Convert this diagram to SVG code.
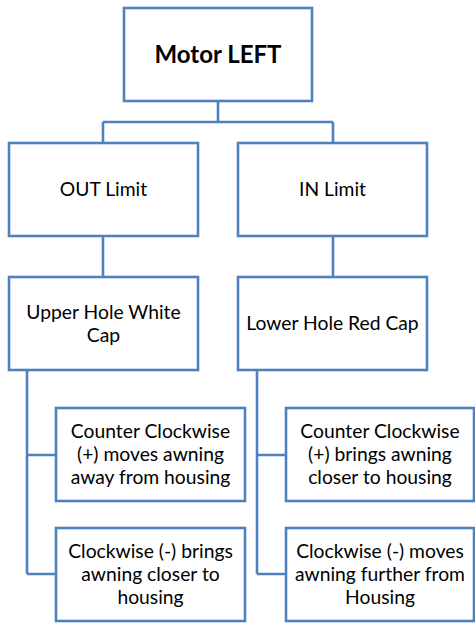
<svg xmlns="http://www.w3.org/2000/svg" width="475" height="623" viewBox="0 0 475 623">
<style>
.box{fill:#ffffff;stroke:#4F81BD;stroke-width:2.6}
.ln{fill:none;stroke:#4F81BD;stroke-width:2.6}
text{font-family:Lato,"Open Sans","Liberation Sans",sans-serif;font-size:19.3px;fill:#000;text-anchor:middle}
.b{font-weight:bold;font-size:24px}
</style>
<rect width="475" height="623" fill="#ffffff"/>
<g id="connectors">
<path class="ln" d="M218 101V122M103 122H333M103 122V143M333 122V143"/>
<path class="ln" d="M103 236V277M333 236V277"/>
<path class="ln" d="M27 370V574M27 455H56M27 574H56"/>
<path class="ln" d="M257 370V574M257 455H286M257 574H286"/>
</g>
<g id="motor"><rect class="box" x="124" y="8" width="188" height="93"/><text class="b" x="218" y="63">Motor LEFT</text></g>
<g id="out-limit"><rect class="box" x="9" y="143" width="189" height="93"/><text x="103.5" y="196">OUT Limit</text></g>
<g id="in-limit"><rect class="box" x="238" y="143" width="189" height="93"/><text x="332.5" y="196">IN Limit</text></g>
<g id="upper-hole"><rect class="box" x="9" y="277" width="189" height="93"/><text x="103.5" y="319">Upper Hole White</text><text x="103.5" y="342">Cap</text></g>
<g id="lower-hole"><rect class="box" x="238" y="277" width="189" height="93"/><text x="332.5" y="330">Lower Hole Red Cap</text></g>
<g id="left-ccw"><rect class="box" x="56" y="408" width="189" height="93"/><text x="150.5" y="438">Counter Clockwise</text><text x="150.5" y="461">(+) moves awning</text><text x="150.5" y="484">away from housing</text></g>
<g id="left-cw"><rect class="box" x="56" y="528" width="189" height="93"/><text x="150.5" y="558">Clockwise (-) brings</text><text x="150.5" y="581">awning closer to</text><text x="150.5" y="604">housing</text></g>
<g id="right-ccw"><rect class="box" x="286" y="408" width="188" height="93"/><text x="380" y="438">Counter Clockwise</text><text x="380" y="461">(+) brings awning</text><text x="380" y="484">closer to housing</text></g>
<g id="right-cw"><rect class="box" x="286" y="528" width="188" height="93"/><text x="380" y="558">Clockwise (-) moves</text><text x="380" y="581">awning further from</text><text x="380" y="604">Housing</text></g>
</svg>
